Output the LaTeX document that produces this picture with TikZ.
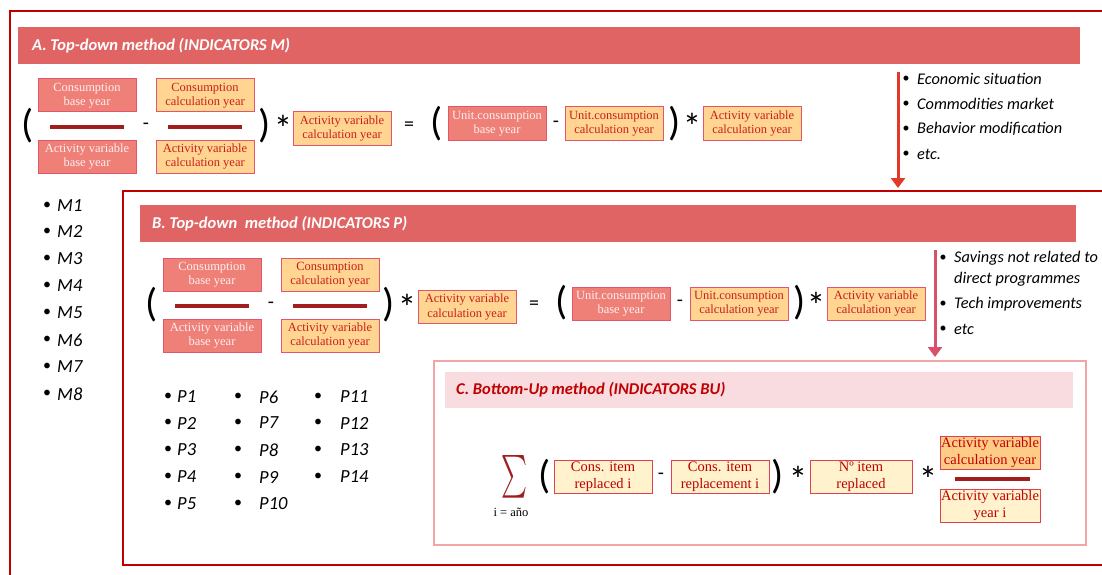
\documentclass[tikz,border=0pt]{standalone}
\usepackage{fontspec}
\usepackage{graphicx}
\setmainfont{Carlito}
\newfontfamily\boxfont{Liberation Serif}
\usetikzlibrary{arrows.meta}
\definecolor{dred}{HTML}{C00000}
\definecolor{hdr}{HTML}{E06464}
\definecolor{salfill}{HTML}{EE8078}
\definecolor{salline}{HTML}{E2566A}
\definecolor{salt}{HTML}{FDF0F0}
\definecolor{orfill}{HTML}{FFD591}
\definecolor{ortext}{HTML}{C81E1E}
\definecolor{crfill}{HTML}{FFF2CC}
\definecolor{crline}{HTML}{E04050}
\definecolor{fracline}{HTML}{A01E1E}
\definecolor{arrA}{HTML}{E03A2A}
\definecolor{arrB}{HTML}{D9506A}
\definecolor{cline}{HTML}{F4A6A6}
\definecolor{chdr}{HTML}{F9DCDF}
\definecolor{orfilltwo}{HTML}{FFCC88}
\tikzset{
 bx/.style={draw, line width=1pt, minimum width=98pt, minimum height=33pt, inner sep=0pt, align=center, font=\boxfont\fontsize{12.5}{14.5}\selectfont},
 salbox/.style={bx, fill=salfill, draw=salline, text=salt},
 orbox/.style={bx, fill=orfill, draw=salline, text=ortext},
 crbox/.style={bx, fill=crfill, draw=crline, text=dred, font=\boxfont\fontsize{14.5}{16.8}\selectfont},
 opsym/.style={inner sep=0pt, font=\fontsize{20}{20}\selectfont},
 astsym/.style={inner sep=0pt, font=\fontsize{37}{37}\selectfont},
 paren/.style={inner sep=0pt, font=\fontsize{40}{40}\selectfont},
 fracbar/.style={fill=fracline, inner sep=0pt, minimum width=74pt, minimum height=4pt},
 hdrbar/.style={fill=hdr, inner sep=0pt, anchor=north west},
 hdrtxt/.style={anchor=west, inner sep=0pt, font=\bfseries\itshape\fontsize{16.5}{18}\selectfont},
 lst/.style={anchor=west, inner sep=0pt, font=\itshape\fontsize{16.3}{18}\selectfont},
 lstbig/.style={anchor=west, inner sep=0pt, font=\itshape\fontsize{18.5}{20}\selectfont},
 bul/.style={inner sep=0pt, font=\fontsize{14}{16}\selectfont},
 bulbig/.style={inner sep=0pt, font=\fontsize{16}{16}\selectfont},
 frame/.style={draw=dred, line width=2pt},
}
\begin{document}
\begin{tikzpicture}[x=1pt,y=-1pt]
\useasboundingbox (0,0) rectangle (1102,575);
% outer frame A
\draw[frame] (10,11) rectangle (1115,590);
\node[hdrbar, minimum width=1062pt, minimum height=37pt] (hA) at (18,27) {};
\node[hdrtxt, text=white] (hAt) at (32,45.5) {A. Top-down method (INDICATORS M)};
% row A
\node[paren] (ap1) at (28,126) {(};
\node[salbox] (a1) at (87,95.5) {Consumption\\base year};
\node[fracbar] (af1) at (87,127) {};
\node[salbox] (a2) at (87,156.5) {Activity variable\\base year};
\node[opsym] (am1) at (146,126) {-};
\node[orbox] (a3) at (205,95.5) {Consumption\\calculation year};
\node[fracbar] (af2) at (205,127) {};
\node[orbox] (a4) at (205,156.5) {Activity variable\\calculation year};
\node[paren] (ap2) at (265,126) {)};
\node[astsym] (ax1) at (283,128) {*};
\node[orbox] (a5) at (342,128.5) {Activity variable\\calculation year};
\node[opsym] (aeq) at (409,126) {=};
\node[paren] (ap3) at (437,124) {(};
\node[salbox] (a6) at (497,123.5) {Unit.consumption\\base year};
\node[opsym] (am2) at (556,124) {-};
\node[orbox] (a7) at (614,123.5) {Unit.consumption\\calculation year};
\node[paren] (ap4) at (675,124) {)};
\node[astsym] (ax2) at (692,126) {*};
\node[orbox] (a8) at (752,123.5) {Activity variable\\calculation year};
% arrow A and list
\coordinate (arA1) at (898,72);
\coordinate (arA2) at (898,188);
\draw[arrA, line width=3pt, -{Triangle[width=14pt,length=10pt]}] (arA1) -- (arA2);
\foreach \t [count=\i] in {Economic situation, Commodities market, Behavior modification, etc.}{
  \node[bul] (lab\i) at (906,54+25*\i) {\textbullet};
  \node[lst] (lat\i) at (917,54+25*\i) {\t};
}
% M list
\foreach \i/\y in {1/206,2/232,3/259,4/286,5/313,6/340,7/367,8/394}{
  \node[bulbig] (mb\i) at (47,\y) {\textbullet};
  \node[lstbig] (m\i) at (57,\y) {M\i};
}
% frame B
\draw[frame] (123,191) rectangle (1115,565);
\node[hdrbar, minimum width=936pt, minimum height=37pt] (hB) at (140,205) {};
\node[hdrtxt, text=white] (hBt) at (152,224) {B. Top-down\ \ method (INDICATORS P)};
% row B
\node[paren] (bp1) at (152,305) {(};
\node[salbox] (b1) at (212,274.5) {Consumption\\base year};
\node[fracbar] (bf1) at (212,306) {};
\node[salbox] (b2) at (212,335.5) {Activity variable\\base year};
\node[opsym] (bm1) at (271,305) {-};
\node[orbox] (b3) at (330,274.5) {Consumption\\calculation year};
\node[fracbar] (bf2) at (330,306) {};
\node[orbox] (b4) at (330,335.5) {Activity variable\\calculation year};
\node[paren] (bp2) at (389,305) {)};
\node[astsym] (bx1) at (407,307) {*};
\node[orbox] (b5) at (467,307) {Activity variable\\calculation year};
\node[opsym] (beq) at (534,305) {=};
\node[paren] (bp3) at (562,303) {(};
\node[salbox] (b6) at (621,303.5) {Unit.consumption\\base year};
\node[opsym] (bm2) at (680,303) {-};
\node[orbox] (b7) at (739,303.5) {Unit.consumption\\calculation year};
\node[paren] (bp4) at (800,303) {)};
\node[astsym] (bx2) at (816,305) {*};
\node[orbox] (b8) at (876,303.5) {Activity variable\\calculation year};
% arrow B and list
\coordinate (arB1) at (935,250);
\coordinate (arB2) at (935,357);
\draw[arrB, line width=3pt, -{Triangle[width=14pt,length=10pt]}] (arB1) -- (arB2);
\node[bul] (lbb1) at (943,258) {\textbullet};
\node[lst] (lbt1) at (954,258) {Savings not related to};
\node[lst] (lbt2) at (954,279) {direct programmes};
\node[bul] (lbb3) at (943,304) {\textbullet};
\node[lst] (lbt3) at (954,304) {Tech improvements};
\node[bul] (lbb4) at (943,329) {\textbullet};
\node[lst] (lbt4) at (954,329) {etc};
% P list
\foreach \i/\y in {1/397,2/423,3/450,4/477,5/504}{
  \node[bulbig] (pb\i) at (168,\y) {\textbullet};
  \node[lstbig] (p\i) at (177,\y) {P\i};
}
\foreach \i/\y in {6/397,7/423,8/450,9/477,10/504}{
  \node[bulbig] (pb\i) at (238,\y) {\textbullet};
  \node[lstbig] (p\i) at (259,\y) {P\i};
}
\foreach \i/\y in {11/397,12/423,13/450,14/477}{
  \node[bulbig] (pb\i) at (318,\y) {\textbullet};
  \node[lstbig] (p\i) at (340,\y) {P\i};
}
% frame C
\draw[cline, line width=2pt, fill=white] (434,361) rectangle (1086,545);
\node[fill=chdr, inner sep=0pt, anchor=north west, minimum width=628pt, minimum height=36pt] (hC) at (445,372) {};
\node[hdrtxt, text=dred] (hCt) at (456,390) {C. Bottom-Up method (INDICATORS BU)};
% row C
\node[inner sep=0pt, text=fracline] (sum) at (514,477) {\resizebox{26pt}{32pt}{$\sum$}};
\node[inner sep=0pt, font=\boxfont\fontsize{12.5}{13}\selectfont] (sumlim) at (511,512) {i = año};
\node[paren] (cp1) at (545,477) {(};
\node[crbox] (c1) at (603,476.5) {Cons. item\\replaced i};
\node[opsym] (cm1) at (661,476) {-};
\node[crbox] (c2) at (720,476.5) {Cons. item\\replacement i};
\node[paren] (cp2) at (778,477) {)};
\node[astsym] (cx1) at (798,479) {*};
\node[crbox, minimum width=102pt] (c3) at (861,476.5) {Nº item\\replaced};
\node[astsym] (cx2) at (928,479) {*};
\node[crbox, fill=orfilltwo, minimum width=100pt] (c4) at (990,452.5) {Activity variable\\calculation year};
\node[fracbar, minimum width=75pt] (cf) at (992,479) {};
\node[crbox, minimum width=100pt] (c5) at (990,505.5) {Activity variable\\year i};
\end{tikzpicture}
\end{document}
